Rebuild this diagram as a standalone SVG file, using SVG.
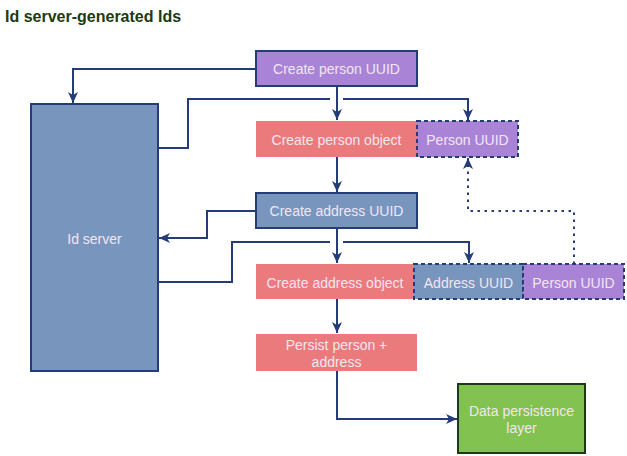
<svg xmlns="http://www.w3.org/2000/svg" width="627" height="456" viewBox="0 0 627 456">
<defs>
<marker id="arr" markerUnits="userSpaceOnUse" markerWidth="12" markerHeight="12" refX="11" refY="5" orient="auto" viewBox="0 0 12 10">
<path d="M0,0 L11,5 L0,10 L3,5 z" fill="#243c78"/>
</marker>
<style>
.lbl{font-family:"Liberation Sans",Arial,sans-serif;font-size:14px;fill:#f2e6f2;text-anchor:middle;dominant-baseline:central}
.title{font-family:"Liberation Sans",Arial,sans-serif;font-size:16px;font-weight:bold;fill:#1f3a10}
.edge{fill:none;stroke:#243c78;stroke-width:2}
.dot{stroke-dasharray:2.5 4.5}
.solid{stroke:#243c78;stroke-width:2}
.dash{stroke:#243c78;stroke-width:2;stroke-dasharray:4 3}
.purple{fill:#a983d6}
.red{fill:#ea7a7c}
.blue{fill:#7895be}
.green{fill:#82c250;stroke:#1f3a10;stroke-width:2}
</style>
</defs>
<rect width="627" height="456" fill="#ffffff"/>
<text class="title" x="5" y="22">Id server-generated Ids</text>
<g id="connectors">
<path class="edge" d="M256,69 H73 V103" marker-end="url(#arr)"/>
<path class="edge" d="M337,86 V120" marker-end="url(#arr)"/>
<path class="edge" d="M158,148 H188 V99 H330"/>
<path class="edge" d="M343,99 H468 V120" marker-end="url(#arr)"/>
<path class="edge" d="M337,157 V192" marker-end="url(#arr)"/>
<path class="edge" d="M256,211 H207 V238 H159" marker-end="url(#arr)"/>
<path class="edge" d="M337,228 V263" marker-end="url(#arr)"/>
<path class="edge" d="M158,282 H232 V242 H330"/>
<path class="edge" d="M343,242 H469 V263" marker-end="url(#arr)"/>
<path class="edge dot" d="M574,264 V211 H468 V158" marker-end="url(#arr)"/>
<path class="edge" d="M337,299 V333" marker-end="url(#arr)"/>
<path class="edge" d="M337,371 V419 H457" marker-end="url(#arr)"/>
</g>
<g id="id-server">
<rect class="blue solid" x="31" y="104" width="127" height="267"/>
<text class="lbl" x="94.5" y="239">Id server</text>
</g>
<g id="create-person-uuid">
<rect class="purple solid" x="256" y="51" width="161" height="35"/>
<text class="lbl" x="336.5" y="69">Create person UUID</text>
</g>
<g id="create-person-object">
<rect class="red" x="256" y="121" width="161" height="36"/>
<text class="lbl" x="336.5" y="140">Create person object</text>
</g>
<g id="person-uuid-1">
<rect class="purple dash" x="417" y="121" width="101" height="36"/>
<text class="lbl" x="467.5" y="140">Person UUID</text>
</g>
<g id="create-address-uuid">
<rect class="blue solid" x="256" y="193" width="161" height="35"/>
<text class="lbl" x="336.5" y="211">Create address UUID</text>
</g>
<g id="create-address-object">
<rect class="red" x="256" y="264" width="158" height="35"/>
<text class="lbl" x="335" y="282.5">Create address object</text>
</g>
<g id="address-uuid">
<rect class="blue dash" x="414" y="264" width="109" height="35"/>
<text class="lbl" x="468.5" y="282.5">Address UUID</text>
</g>
<g id="person-uuid-2">
<rect class="purple dash" x="523" y="264" width="101" height="35"/>
<text class="lbl" x="573.5" y="282.5">Person UUID</text>
</g>
<g id="persist">
<rect class="red" x="256" y="334" width="161" height="37"/>
<text class="lbl" x="336.5" y="345">Persist person +</text>
<text class="lbl" x="336.5" y="361.5">address</text>
</g>
<g id="data-persistence">
<rect class="green" x="458" y="384" width="127" height="69"/>
<text class="lbl" x="521.5" y="411">Data persistence</text>
<text class="lbl" x="521.5" y="427.5">layer</text>
</g>
</svg>
